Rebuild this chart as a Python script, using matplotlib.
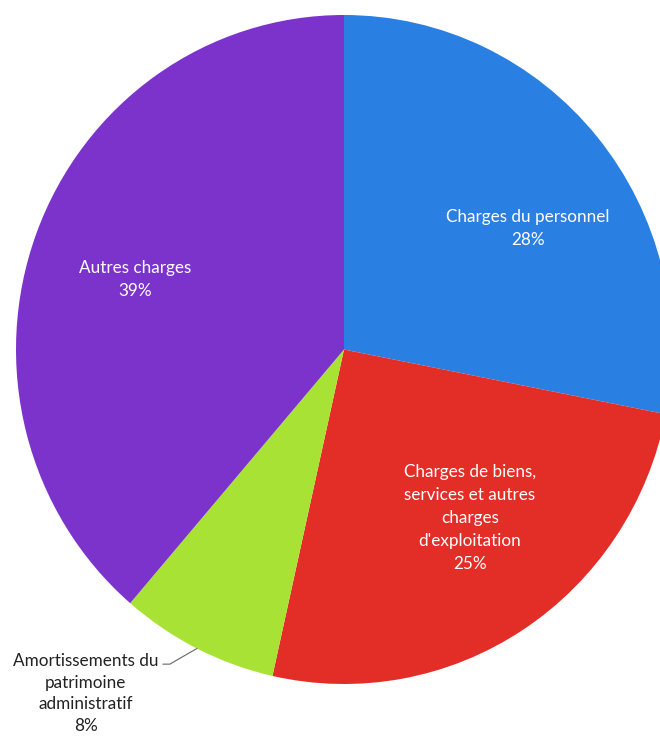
import numpy as np
import matplotlib
matplotlib.use("Agg")
import matplotlib.pyplot as plt

plt.rcParams["font.family"] = ["Lato", "DejaVu Sans"]

# data
labels = ["Charges du personnel",
          "Charges de biens,\nservices et autres\ncharges\nd'exploitation",
          "Amortissements du\npatrimoine\nadministratif",
          "Autres charges"]
shares = [28.1, 25.4, 7.8, 38.7]
pct_labels = ["28%", "25%", "8%", "39%"]
colors = ["#2A7FE3", "#E32D27", "#A8E234", "#7B33CC"]

W, H = 660, 738
fig = plt.figure(figsize=(W / 100, H / 100), dpi=100)
ax = fig.add_axes([0, 0, 1, 1])

# pie is a bit narrower than tall in the original
sx = 334.5 / 328
cx, cy, r = 344 * sx, H - 349.5, 334.5
wedges, _ = ax.pie(shares, colors=colors, startangle=90, counterclock=False,
                   center=(cx, cy), radius=r, frame=True,
                   wedgeprops=dict(linewidth=0))
ax.set_aspect("auto")
ax.set_xlim(0, W * sx)
ax.set_ylim(0, H)
ax.axis("off")

# small angular nudges / distances for inner labels (like the Excel layout)
nudge = [-6.7, 4.2, 0, 2.2]
dist = [0.667, 0.633, 0, 0.67]

for i, w in enumerate(wedges):
    mid = (w.theta1 + w.theta2) / 2
    txt = f"{labels[i]}\n{pct_labels[i]}"
    if shares[i] < 10:
        a = np.deg2rad(mid)
        px, py = cx + r * np.cos(a), cy + r * np.sin(a)
        ax.annotate(txt, xy=(px, py), xytext=(px - 111 * sx, py - 45),
                    ha="center", va="center", fontsize=12.3, color="#222222",
                    linespacing=1.45,
                    arrowprops=dict(arrowstyle="-", color="#666666", lw=0.8,
                                    relpos=(1.0, 0.86), shrinkA=1, shrinkB=0,
                                    connectionstyle="angle,angleA=0,angleB=30,rad=0"))
    else:
        a = np.deg2rad(mid + nudge[i])
        d = dist[i] * r
        ax.text(cx + d * np.cos(a), cy + d * np.sin(a), txt,
                ha="center", va="center", fontsize=12.3, color="white",
                linespacing=1.55)

plt.savefig("out.png", dpi=100)
